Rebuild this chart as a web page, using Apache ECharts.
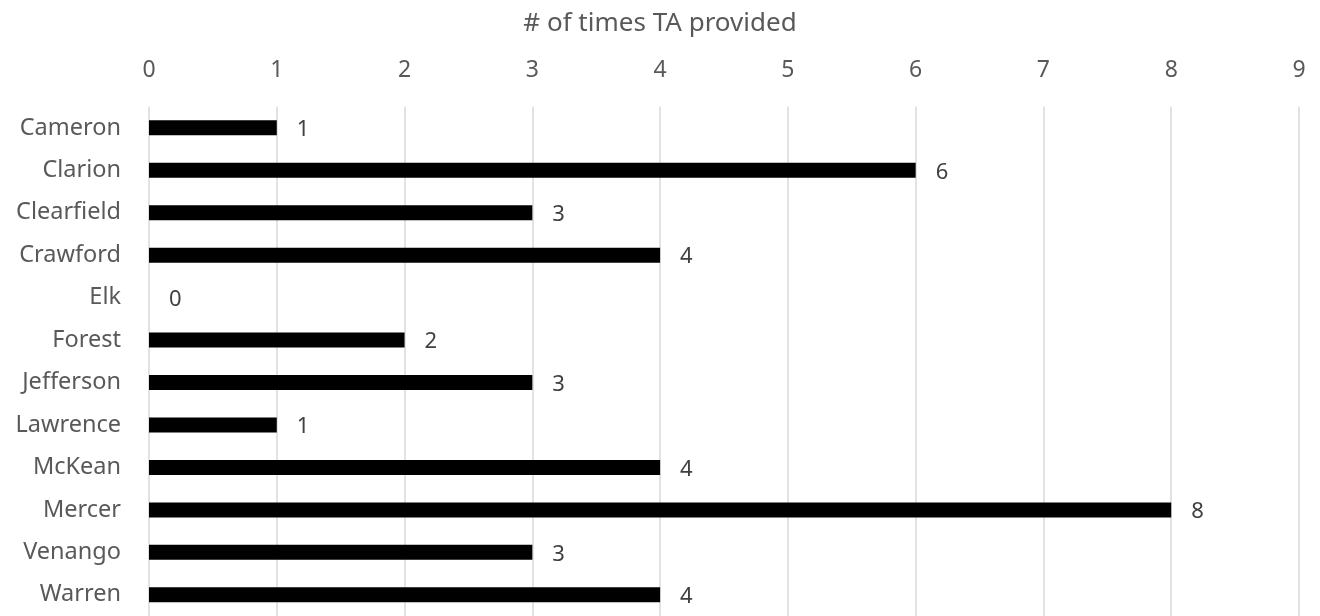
<!DOCTYPE html>
<html><head><meta charset="utf-8">
<script src="https://cdn.jsdelivr.net/npm/echarts@6/dist/echarts.min.js"></script>
<style>html,body{margin:0;padding:0;background:#fff}#c{width:1320px;height:616px}</style>
</head><body><div id="c"></div>
<script>
const categories = ["Cameron","Clarion","Clearfield","Crawford","Elk","Forest","Jefferson","Lawrence","McKean","Mercer","Venango","Warren"];
const values = [1,6,3,4,0,2,3,1,4,8,3,4];
const axisTitle = "# of times TA provided";
const FONT = "Noto Sans";
const chart = echarts.init(document.getElementById('c'), null, {renderer:'canvas'});
chart.setOption({
  animation:false,
  backgroundColor:'#ffffff',
  title:{text:axisTitle,left:'center',top:6,textStyle:{fontFamily:FONT,fontSize:26,fontWeight:'normal',color:'#595959'}},
  grid:{left:149,right:21,top:106.6,bottom:-4.4,containLabel:false},
  xAxis:{
    type:'value', position:'top', min:0, max:9, interval:1,
    axisLine:{show:false}, axisTick:{show:false},
    axisLabel:{fontFamily:FONT,fontSize:23,color:'#595959',margin:25},
    splitLine:{show:true,lineStyle:{color:'#d9d9d9',width:1.5}}
  },
  yAxis:{
    type:'category', data:categories, inverse:true,
    axisLine:{show:false}, axisTick:{show:false},
    axisLabel:{fontFamily:FONT,fontSize:23.5,color:'#595959',margin:28}
  },
  series:[{
    type:'bar', data:values, barWidth:15,
    itemStyle:{color:'#000000'},
    label:{show:true,position:'right',distance:20,offset:[0,2],fontFamily:FONT,fontSize:22,color:'#404040'}
  }]
});
</script></body></html>
